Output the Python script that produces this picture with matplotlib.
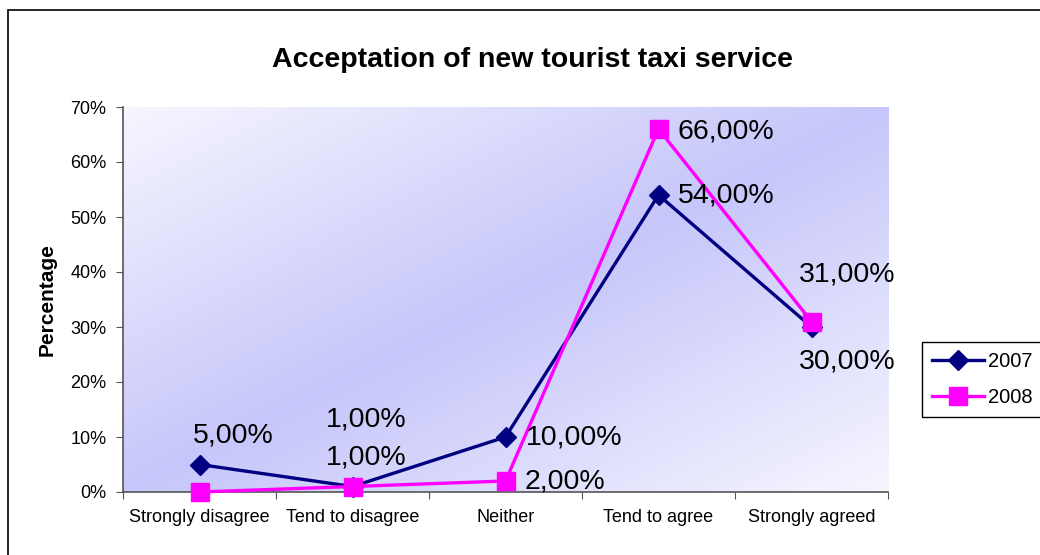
import matplotlib.pyplot as plt
import numpy as np
from matplotlib.patches import Rectangle

plt.rcParams["font.family"] = ["Liberation Sans", "DejaVu Sans"]

categories = ["Strongly disagree", "Tend to disagree", "Neither", "Tend to agree", "Strongly agreed"]
values_2007 = [5, 1, 10, 54, 30]
values_2008 = [0, 1, 2, 66, 31]
labels_2007 = ["5,00%", "1,00%", "10,00%", "54,00%", "30,00%"]
labels_2008 = [None, "1,00%", "2,00%", "66,00%", "31,00%"]
y_ticks = [0, 10, 20, 30, 40, 50, 60, 70]

# label placement (offset in points, horizontal alignment)
place_2007 = [((24, 21), "center"), ((10, 48), "center"), ((15, 0), "left"),
              ((14, 0), "left"), ((26, -25), "center")]
place_2008 = [None, ((10, 21), "center"), ((14, 0), "left"),
              ((14, -2), "left"), ((26, 34), "center")]

fig = plt.figure(figsize=(10.4, 5.55), dpi=100)
ax = fig.add_axes([123 / 1040, 1 - 492 / 555, (888 - 123) / 1040, (492 - 107) / 555])

# outer chart border
fig.patches.append(Rectangle((8 / 1040, -0.1), 1.2, 1 - 10 / 555 + 0.1, transform=fig.transFigure,
                             fill=False, edgecolor="black", linewidth=1.2))

# diagonal gradient background of plot area
n = 200
gx, gy = np.meshgrid(np.linspace(0, 1, n), np.linspace(0, 1, n))
s = 1 - np.abs(gx + gy - 1)
light = np.array([246, 246, 255]) / 255
dark = np.array([198, 198, 250]) / 255
img = light + (dark - light) * s[..., None]
ax.imshow(img, extent=(-0.5, 4.5, 0, 70), aspect="auto", zorder=0, origin="upper")

x = np.arange(len(categories))
ax.plot(x, values_2007, color="#000080", linewidth=2.4, marker="D", markersize=10.5,
        label="2007", zorder=3, clip_on=False)
ax.plot(x, values_2008, color="#FF00FF", linewidth=2.4, marker="s", markersize=13,
        label="2008", zorder=4, clip_on=False)

for xi, yi, lab, pl in zip(x, values_2007, labels_2007, place_2007):
    ax.annotate(lab, (xi, yi), xytext=pl[0], textcoords="offset points",
                ha=pl[1], va="center", fontsize=20.5, zorder=5)
for xi, yi, lab, pl in zip(x, values_2008, labels_2008, place_2008):
    if lab is None:
        continue
    ax.annotate(lab, (xi, yi), xytext=pl[0], textcoords="offset points",
                ha=pl[1], va="center", fontsize=20.5, zorder=5)

ax.set_xlim(-0.5, 4.5)
ax.set_ylim(0, 70)
ax.set_yticks(y_ticks)
ax.set_yticklabels([f"{v}%" for v in y_ticks], fontsize=13)
ax.set_xticks(np.arange(-0.5, 5, 1))
ax.set_xticklabels([])
ax.set_xticks(x, minor=True)
ax.set_xticklabels(categories, minor=True, fontsize=13)
ax.tick_params(axis="x", which="minor", length=0, pad=12)
ax.tick_params(axis="both", which="major", direction="out", length=5, color="#555555")
ax.tick_params(axis="y", pad=7)

for side in ["top", "right"]:
    ax.spines[side].set_visible(False)
for side in ["left", "bottom"]:
    ax.spines[side].set_color("#555555")
    ax.spines[side].set_linewidth(1.2)

ax.set_ylabel("Percentage", fontsize=15, fontweight="bold", labelpad=10)
fig.text(532 / 1040, 1 - 60 / 555, "Acceptation of new tourist taxi service",
         ha="center", va="center", fontsize=20.5, fontweight="bold")

leg = ax.legend(loc="upper left", bbox_to_anchor=(922 / 1040, 1 - 342 / 555),
                bbox_transform=fig.transFigure, fontsize=14.5, fancybox=False,
                framealpha=1, edgecolor="black", handlelength=2.6, borderpad=0.5,
                labelspacing=0.85, handletextpad=0.2, borderaxespad=0)
leg.get_frame().set_linewidth(1.0)
leg._legend_box.align = "left"

plt.savefig("out.png", dpi=100)
